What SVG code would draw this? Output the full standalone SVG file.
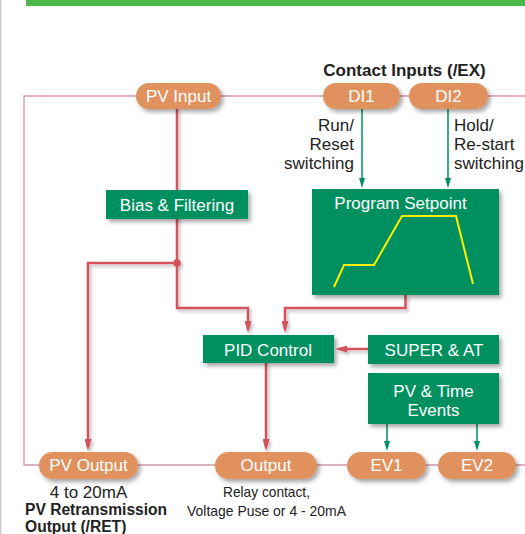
<svg xmlns="http://www.w3.org/2000/svg" width="525" height="534" viewBox="0 0 525 534">
<style>
  text { font-family: "Liberation Sans", Arial, sans-serif; }
  .pill { fill: #e0915d; }
  .box { fill: #00905f; }
  .wt { fill: #ffffff; font-size: 17px; text-anchor: middle; }
  .lbl { fill: #222222; font-size: 17px; }
  .bold { font-weight: bold; }
  .frame { fill: none; stroke: #d897a8; stroke-width: 1.3; }
  .red { fill: none; stroke: #d3525d; stroke-width: 2.5; }
  .grn { fill: none; stroke: #00905f; stroke-width: 1.5; }
</style>
<defs>
  <filter id="sh" x="-20%" y="-20%" width="150%" height="160%">
    <feDropShadow dx="2.5" dy="3" stdDeviation="2" flood-color="#000" flood-opacity="0.35"/>
  </filter>
  <filter id="lsh" x="-50%" y="-10%" width="200%" height="130%">
    <feDropShadow dx="2" dy="2.5" stdDeviation="1.5" flood-color="#000" flood-opacity="0.25"/>
  </filter>
  <marker id="ar" viewBox="0 0 12 7" refX="8" refY="3.5" markerWidth="12" markerHeight="7" markerUnits="userSpaceOnUse" orient="auto">
    <path d="M0,0 L12,3.5 L0,7 z" fill="#d3525d"/>
  </marker>
  <marker id="ag" viewBox="0 0 10 6" refX="7" refY="3" markerWidth="10" markerHeight="6" markerUnits="userSpaceOnUse" orient="auto">
    <path d="M0,0 L10,3 L0,6 z" fill="#00905f"/>
  </marker>
</defs>

<rect x="0" y="0" width="1.5" height="534" fill="#cccccc"/>
<rect x="26" y="0" width="499" height="6" fill="#4cb84a"/>

<g id="connectors">
  <path class="frame" d="M525,96 H24 V465 H525"/>
  <g filter="url(#lsh)">
    <path class="red" d="M177,109 V308 H248 V329" marker-end="url(#ar)"/>
    <path class="red" d="M177,263 H88 V447" marker-end="url(#ar)"/>
    <path class="red" d="M405.5,295 V308 H285 V329" marker-end="url(#ar)"/>
    <path class="red" d="M368,349 H339" marker-end="url(#ar)"/>
    <path class="red" d="M266,363 V447" marker-end="url(#ar)"/>
    <circle cx="177" cy="263" r="3.8" fill="#d3525d"/>
  </g>
  <path class="grn" d="M362,109 V185" marker-end="url(#ag)"/>
  <path class="grn" d="M448,109 V185" marker-end="url(#ag)"/>
  <path class="grn" d="M387,424 V448" marker-end="url(#ag)"/>
  <path class="grn" d="M477,424 V448" marker-end="url(#ag)"/>
</g>

<text class="lbl bold" x="404.5" y="75.5" text-anchor="middle">Contact Inputs (/EX)</text>

<g id="pv-input">
  <rect class="pill" x="136" y="83" width="85" height="26" rx="13" filter="url(#sh)"/>
  <text class="wt" x="178.5" y="102">PV Input</text>
</g>
<g id="di1">
  <rect class="pill" x="323" y="83" width="77" height="26" rx="13" filter="url(#sh)"/>
  <text class="wt" x="361.5" y="102">DI1</text>
</g>
<g id="di2">
  <rect class="pill" x="409" y="83" width="79" height="26" rx="13" filter="url(#sh)"/>
  <text class="wt" x="448.5" y="102">DI2</text>
</g>

<g id="label-run">
  <text class="lbl" text-anchor="end"><tspan x="354" y="131">Run/</tspan><tspan x="354" y="150">Reset</tspan><tspan x="354" y="169">switching</tspan></text>
</g>
<g id="label-hold">
  <text class="lbl"><tspan x="454" y="131">Hold/</tspan><tspan x="454" y="150">Re-start</tspan><tspan x="454" y="169">switching</tspan></text>
</g>

<g id="bias-filtering">
  <rect class="box" x="106" y="190" width="142" height="29" filter="url(#sh)"/>
  <text class="wt" x="177" y="211">Bias &amp; Filtering</text>
</g>

<g id="program-setpoint">
  <rect class="box" x="312" y="189" width="187" height="106" filter="url(#sh)"/>
  <text class="wt" x="400.5" y="209">Program Setpoint</text>
  <polyline points="334,287 344,265 374,265 402,216 456,216 473,284" fill="none" stroke="#ffee00" stroke-width="2"/>
</g>

<g id="pid-control">
  <rect class="box" x="203" y="335" width="131" height="28" filter="url(#sh)"/>
  <text class="wt" x="268" y="355.5">PID Control</text>
</g>

<g id="super-at">
  <rect class="box" x="368" y="335" width="131" height="29" filter="url(#sh)"/>
  <text class="wt" x="434" y="355.5">SUPER &amp; AT</text>
</g>

<g id="pv-time-events">
  <rect class="box" x="368" y="373" width="131" height="51" filter="url(#sh)"/>
  <text class="wt"><tspan x="433.5" y="397">PV &amp; Time</tspan><tspan x="433.5" y="415.5">Events</tspan></text>
</g>

<g id="pv-output">
  <rect class="pill" x="39" y="452" width="99" height="27" rx="13.5" filter="url(#sh)"/>
  <text class="wt" x="88.5" y="471">PV Output</text>
</g>
<g id="output">
  <rect class="pill" x="215" y="452" width="102" height="27" rx="13.5" filter="url(#sh)"/>
  <text class="wt" x="266" y="471">Output</text>
</g>
<g id="ev1">
  <rect class="pill" x="347" y="452" width="79" height="27" rx="13.5" filter="url(#sh)"/>
  <text class="wt" x="386.5" y="471">EV1</text>
</g>
<g id="ev2">
  <rect class="pill" x="438" y="452" width="78" height="27" rx="13.5" filter="url(#sh)"/>
  <text class="wt" x="477" y="471">EV2</text>
</g>

<text class="lbl" x="88.5" y="498" text-anchor="middle">4 to 20mA</text>
<text class="lbl bold" x="25" y="515" style="font-size:15.6px">PV Retransmission</text>
<text class="lbl bold" x="25" y="532" style="font-size:15.6px">Output (/RET)</text>
<text class="lbl" x="266.5" y="497" text-anchor="middle" style="font-size:15px" textLength="87" lengthAdjust="spacingAndGlyphs">Relay contact,</text>
<text class="lbl" x="266.5" y="516" text-anchor="middle" style="font-size:15px" textLength="159" lengthAdjust="spacingAndGlyphs">Voltage Puse or 4 - 20mA</text>
</svg>
